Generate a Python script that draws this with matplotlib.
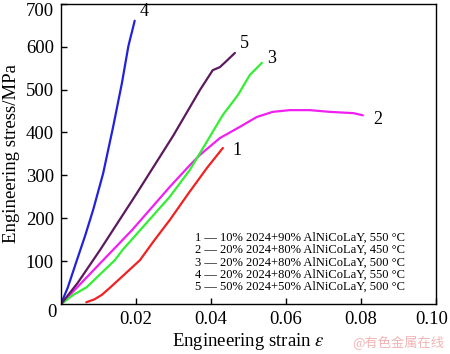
"""Engineering stress-strain curves of 2024/AlNiCoLaY composites."""

import matplotlib

matplotlib.use("Agg")
import matplotlib.pyplot as plt
import matplotlib.transforms as mtransforms

# curve 1: 10% 2024 + 90% AlNiCoLaY, 550 C
strain_1 = [0.0068, 0.0090, 0.0109, 0.0130, 0.0170, 0.0211, 0.0250, 0.0291, 0.0340, 0.0390, 0.0432]
stress_1 = [5, 12, 22, 38, 70, 103, 150, 197, 258, 318, 364]

# curve 2: 20% 2024 + 80% AlNiCoLaY, 450 C
strain_2 = [0, 0.0113, 0.0190, 0.0290, 0.0344, 0.0371, 0.0424, 0.0477, 0.0522, 0.0565,
            0.0610, 0.0664, 0.0717, 0.0780, 0.0805]
stress_2 = [0, 103, 173, 273, 324, 348, 387, 413, 436, 448, 452, 452, 448, 445, 440]

# curve 3: 20% 2024 + 80% AlNiCoLaY, 500 C
strain_3 = [0, 0.0033, 0.0069, 0.0144, 0.0165, 0.0290, 0.0344, 0.0384, 0.0432, 0.0472, 0.0504, 0.0536]
stress_3 = [0, 22, 40, 103, 127, 250, 313, 371, 441, 487, 534, 562]

# curve 4: 20% 2024 + 80% AlNiCoLaY, 550 C
strain_4 = [0, 0.0019, 0.0043, 0.0065, 0.0087, 0.0113, 0.0140, 0.0163, 0.0172, 0.0180, 0.0185, 0.0190, 0.0197]
stress_4 = [0, 40, 103, 160, 222, 305, 415, 515, 560, 600, 618, 635, 660]

# curve 5: 50% 2024 + 50% AlNiCoLaY, 500 C
strain_5 = [0, 0.0045, 0.0105, 0.0200, 0.0300, 0.0371, 0.0405, 0.0424, 0.0440, 0.0464]
stress_5 = [0, 50, 127, 255, 393, 499, 545, 552, 565, 585]

curve_ids = ["1", "2", "3", "4", "5"]
curve_colors = ["#ee2222", "#f020f0", "#33ee33", "#2222dd", "#5c1a5e"]
legend_labels = [
    "10% 2024+90% AlNiCoLaY, 550 °C",
    "20% 2024+80% AlNiCoLaY, 450 °C",
    "20% 2024+80% AlNiCoLaY, 500 °C",
    "20% 2024+80% AlNiCoLaY, 550 °C",
    "50% 2024+50% AlNiCoLaY, 500 °C",
]

x_ticks = [0.02, 0.04, 0.06, 0.08, 0.10]
y_ticks = [100, 200, 300, 400, 500, 600, 700]

plt.rcParams.update(
    {
        "font.family": ["Liberation Serif", "DejaVu Serif"],
        "mathtext.fontset": "stix",
        "axes.linewidth": 1.0,
    }
)

fig = plt.figure(figsize=(4.5, 3.54), dpi=100)
ax = fig.add_axes([0.135, 0.140, 0.834, 0.850])

curves = [
    (strain_1, stress_1),
    (strain_2, stress_2),
    (strain_3, stress_3),
    (strain_4, stress_4),
    (strain_5, stress_5),
]
for (x, y), color in zip(curves, curve_colors):
    ax.plot(x, y, color=color, linewidth=1.6, solid_capstyle="round", solid_joinstyle="round")

# curve numbers next to the curve ends
label_offsets = [(10, -2), (11, -3), (7, 3), (7, 7), (7, 7)]
for (x, y), cid, (dx, dy) in zip(curves, curve_ids, label_offsets):
    ax.annotate(cid, xy=(x[-1], y[-1]), xytext=(dx, dy), textcoords="offset points",
                ha="center", va="center", fontsize=13)

ax.set_xlim(0, 0.10)
ax.set_ylim(0, 700)
ax.set_xticks(x_ticks)
ax.set_xticklabels([f"{t:.2f}" for t in x_ticks])
ax.set_yticks(y_ticks)
ax.tick_params(direction="in", length=4, width=1.0, labelsize=13.5)
ax.tick_params(axis="x", pad=5)
ax.tick_params(axis="y", pad=5)
ax.text(-0.023, -0.028, "0", transform=ax.transAxes, ha="center", va="center", fontsize=13.5)

# edge labels nudged inward so they stay inside the figure
fig.canvas.draw()
top_label = ax.get_yticklabels()[-1]
top_label.set_transform(top_label.get_transform()
                        + mtransforms.ScaledTranslation(0, -4 / 72, fig.dpi_scale_trans))
right_label = ax.get_xticklabels()[-1]
right_label.set_transform(right_label.get_transform()
                          + mtransforms.ScaledTranslation(-3 / 72, 0, fig.dpi_scale_trans))

ax.set_xlabel(r"Engineering strain $\varepsilon$", fontsize=13.5, labelpad=2)
ax.set_ylabel("Engineering stress/MPa", fontsize=13.5, labelpad=4)

# legend written as text rows
for i, (cid, lab) in enumerate(zip(curve_ids, legend_labels)):
    ax.text(0.358, 0.222 - i * 0.041, f"{cid} \u2014 {lab}", transform=ax.transAxes,
            ha="left", va="center", fontsize=9)

fig.text(0.885, 0.031, "@有色金属在线", ha="center", va="center", fontsize=9.5,
         color="#f2b4b4", family=["Noto Sans CJK SC", "DejaVu Sans"])

fig.savefig("out.png", dpi=100)
